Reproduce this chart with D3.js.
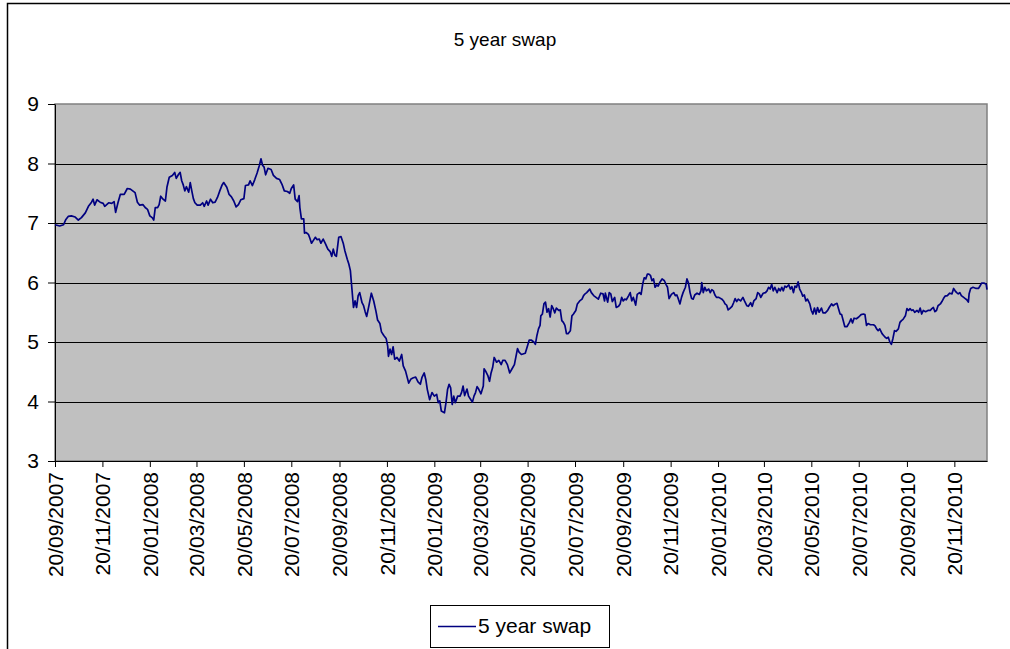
<!DOCTYPE html>
<html>
<head>
<meta charset="utf-8">
<script src="https://cdn.jsdelivr.net/npm/d3@7"></script>
<style>
  body { margin: 0; background: #fff; }
  text { font-family: "Liberation Sans", Arial, sans-serif; }
</style>
</head>
<body>
<script>
var width = 1010,
    height = 649;

// series: days since 20/09/2007 and the 5 year swap rate
var startDate = "20/09/2007";

var dayOffsets = [
  0,6,11,14,17,21,26,30,34,39,43,47,49,51,54,58,62,64,69,73,76,78,81,84,89,93,97,103,106,109,
  113,116,119,122,125,127,129,132,134,136,139,142,144,147,
  151,154,156,159,161,163,165,167,169,172,174,176,178,180,183,187,190,192,195,197,
  200,203,206,209,212,215,217,221,224,227,230,233,236,239,243,245,249,251,254,257,
  260,263,265,267,269,271,274,278,281,285,289,292,295,
  299,302,304,307,309,312,314,315,317,320,321,323,326,328,330,332,335,337,340,342,
  345,348,351,354,356,358,360,362,365,368,371,373,376,378,380,382,384,386,388,390,
  392,395,397,399,401,404,407,410,413,415,418,420,423,426,428,429,431,433,435,437,440,443,
  446,448,451,455,458,461,464,467,470,472,475,477,479,482,485,488,491,493,495,497,
  501,503,505,507,509,511,513,515,518,521,523,525,527,530,532,535,537,539,541,543,
  545,548,551,552,554,557,559,561,563,565,568,571,574,576,579,582,585,588,591,
  595,597,600,605,608,610,613,616,618,620,622,624,625,627,629,631,633,635,637,639,
  641,643,645,648,650,652,654,656,658,660,663,665,667,670,672,675,678,680,682,684,
  686,688,690,693,696,699,702,705,707,708,711,713,715,717,720,722,725,727,729,731,733,735,738,
  740,742,744,747,749,752,754,756,758,760,762,764,766,768,770,772,774,776,778,781,
  784,786,788,790,793,796,798,800,802,804,806,808,811,813,815,817,819,821,823,826,
  829,831,832,834,836,838,841,843,845,847,849,851,854,858,860,862,864,866,868,871,
  873,875,877,879,882,885,887,
  890,892,895,897,899,902,904,906,908,911,914,916,918,920,922,924,926,929,931,933,
  935,937,939,941,944,946,948,950,952,954,956,958,960,962,964,966,968,971,973,975,
  977,979,981,983,986,988,991,994,996,999,1001,1004,1006,1008,1010,1012,1014,1016,1019,1022,
  1024,1026,1028,1031,1034,1037,1040,
  1042,1044,1046,1049,1053,1055,1057,1059,1061,1064,1066,1068,1070,1072,1074,1076,1078,1080,1082,1085,
  1087,1089,1091,1094,1096,1098,1100,1102,1104,1106,1109,1111,1113,1115,1117,1120,1123,1126,1128,1130,
  1132,1134,1136,1139,1141,1143,1145,1148,1151,1154,1156,1158,1160,1162,1164,1166,1169,1171,1173,1175,
  1176,1178,1181,1185,1188,1190,1192,1195,1198,1199
];

var swapRates = [
  6.97,6.95,6.97,7.06,7.11,7.12,7.10,7.05,7.09,7.17,7.28,7.35,7.40,7.30,7.39,7.35,7.33,7.28,7.34,7.33,
  7.36,7.18,7.34,7.48,7.48,7.58,7.57,7.51,7.35,7.30,7.31,7.26,7.23,7.12,7.09,7.05,7.26,7.26,7.31,7.45,
  7.40,7.37,7.60,7.77,
  7.80,7.85,7.75,7.82,7.85,7.71,7.64,7.54,7.61,7.52,7.68,7.54,7.41,7.34,7.30,7.30,7.34,7.28,7.37,7.30,
  7.40,7.34,7.35,7.43,7.54,7.64,7.68,7.60,7.48,7.44,7.37,7.27,7.31,7.39,7.41,7.63,7.64,7.71,7.63,7.73,
  7.84,7.97,8.08,7.97,7.94,7.81,7.92,7.90,7.80,7.75,7.73,7.65,7.54,
  7.53,7.50,7.58,7.64,7.40,7.36,7.46,7.26,7.07,7.07,6.83,6.84,6.81,6.74,6.66,6.70,6.76,6.72,6.73,6.66,
  6.73,6.65,6.56,6.52,6.44,6.56,6.46,6.44,6.76,6.77,6.65,6.53,6.39,6.31,6.20,5.89,5.58,5.69,5.58,5.78,
  5.83,5.66,5.61,5.51,5.43,5.62,5.82,5.69,5.51,5.37,5.31,5.17,5.11,5.06,4.93,4.76,4.88,4.79,4.92,4.71,
  4.74,4.68,
  4.79,4.60,4.51,4.31,4.38,4.40,4.41,4.33,4.29,4.40,4.48,4.37,4.20,4.03,4.15,4.09,4.12,3.98,4.01,3.84,
  3.81,3.98,4.20,4.29,4.23,3.95,4.09,3.98,4.09,4.09,4.15,4.26,4.10,4.21,4.09,4.03,3.99,4.09,4.15,4.25,
  4.21,4.13,4.26,4.55,4.51,4.43,4.34,4.48,4.57,4.74,4.66,4.69,4.62,4.69,4.69,4.62,4.48,4.55,4.62,
  4.89,4.83,4.79,4.81,4.94,5.03,5.03,5.00,4.96,5.11,5.22,5.28,5.44,5.47,5.64,5.67,5.50,5.56,5.42,5.61,
  5.56,5.49,5.57,5.53,5.54,5.36,5.33,5.28,5.14,5.14,5.19,5.44,5.47,5.53,5.64,5.69,5.72,5.78,5.81,5.83,
  5.86,5.89,5.83,5.78,5.75,5.72,5.82,5.81,5.69,5.82,5.67,5.83,5.81,5.68,5.75,5.58,5.60,5.64,5.75,5.69,
  5.72,5.71,5.78,
  5.83,5.69,5.75,5.62,5.80,5.83,5.80,5.97,6.08,6.06,6.14,6.14,6.12,6.03,6.06,5.92,5.96,5.94,6.00,6.06,
  6.03,5.97,5.92,5.73,5.80,5.83,5.78,5.79,5.72,5.64,5.75,5.83,5.92,6.06,5.99,5.83,5.73,5.72,5.79,5.82,
  5.80,5.86,6.00,5.83,5.92,5.86,5.89,5.83,5.88,5.86,5.79,5.75,5.75,5.72,5.69,5.64,5.62,5.54,5.56,5.60,
  5.66,5.73,5.68,5.72,5.69,5.75,5.69,
  5.61,5.60,5.66,5.60,5.69,5.73,5.83,5.81,5.75,5.82,5.83,5.86,5.92,5.89,5.97,5.86,5.92,5.83,5.90,5.86,
  5.92,5.86,5.94,5.92,5.96,5.89,5.93,5.83,5.94,5.92,6.01,5.89,5.84,5.77,5.79,5.69,5.72,5.64,5.53,5.47,
  5.57,5.47,5.58,5.50,5.57,5.49,5.49,5.53,5.58,5.64,5.61,5.64,5.65,5.56,5.47,5.46,5.36,5.26,5.26,5.33,
  5.39,5.32,5.40,5.39,5.42,5.46,5.47,
  5.46,5.28,5.31,5.29,5.29,5.27,5.22,5.19,5.22,5.14,5.11,5.08,5.06,5.08,5.00,4.96,5.06,5.19,5.18,5.22,
  5.33,5.36,5.38,5.44,5.56,5.53,5.56,5.53,5.54,5.50,5.53,5.50,5.57,5.47,5.53,5.51,5.53,5.53,5.56,5.58,
  5.51,5.53,5.61,5.64,5.68,5.73,5.77,5.78,5.82,5.81,5.90,5.86,5.83,5.81,5.83,5.78,5.75,5.73,5.71,5.67,
  5.81,5.90,5.92,5.90,5.90,5.94,5.99,5.99,5.97,5.88
];

var xTickLabels = [
  "20/09/2007","20/11/2007","20/01/2008","20/03/2008","20/05/2008","20/07/2008",
  "20/09/2008","20/11/2008","20/01/2009","20/03/2009","20/05/2009","20/07/2009",
  "20/09/2009","20/11/2009","20/01/2010","20/03/2010","20/05/2010","20/07/2010",
  "20/09/2010","20/11/2010"
];
var axisEnd = "01/01/2011";
var yTicks = [3, 4, 5, 6, 7, 8, 9];
var seriesName = "5 year swap";
var title = "5 year swap";

var parse = d3.timeParse("%d/%m/%Y");
var fmt = d3.timeFormat("%d/%m/%Y");
var start = parse(startDate);

var data = dayOffsets.map(function (d, i) {
  return { date: d3.timeDay.offset(start, d), value: swapRates[i] };
});

var plot = { left: 55, right: 987, top: 104, bottom: 461 };

var x = d3.scaleTime()
    .domain([start, parse(axisEnd)])
    .range([plot.left, plot.right]);

var y = d3.scaleLinear()
    .domain([3, 9])
    .range([plot.bottom, plot.top]);

var svg = d3.select("body").append("svg")
    .attr("width", width)
    .attr("height", height);

// chart frame
svg.append("rect")
    .attr("x", 7.5).attr("y", 3.5)
    .attr("width", 1012).attr("height", 660)
    .attr("fill", "none")
    .attr("stroke", "#000")
    .attr("stroke-width", 1.5);

// plot area
svg.append("rect")
    .attr("x", plot.left).attr("y", plot.top)
    .attr("width", plot.right - plot.left)
    .attr("height", plot.bottom - plot.top)
    .attr("fill", "#c0c0c0")
    .attr("stroke", "#808080")
    .attr("stroke-width", 1.5);

// gridlines
svg.append("g")
  .selectAll("line")
  .data(yTicks.filter(function (t) { return t > 3 && t < 9; }))
  .enter().append("line")
    .attr("x1", plot.left).attr("x2", plot.right)
    .attr("y1", function (t) { return Math.round(y(t)) + 0.5; })
    .attr("y2", function (t) { return Math.round(y(t)) + 0.5; })
    .attr("stroke", "#000")
    .attr("stroke-width", 1);

// y axis
var yAxis = svg.append("g")
    .attr("transform", "translate(" + plot.left + ",0)")
    .call(d3.axisLeft(y)
      .tickValues(yTicks)
      .tickFormat(d3.format("d"))
      .tickSize(7)
      .tickSizeOuter(0)
      .tickPadding(9));
yAxis.selectAll("text")
    .attr("font-size", 21)
    .attr("fill", "#000");

// x axis
var xAxis = svg.append("g")
    .attr("transform", "translate(0," + plot.bottom + ")")
    .call(d3.axisBottom(x)
      .tickValues(xTickLabels.map(parse))
      .tickFormat(fmt)
      .tickSize(6)
      .tickSizeOuter(0));
xAxis.selectAll("text")
    .attr("transform", "rotate(-90)")
    .attr("text-anchor", "end")
    .attr("x", -11)
    .attr("y", 0)
    .attr("dy", "0.35em")
    .attr("font-size", 21)
    .attr("fill", "#000");

svg.selectAll(".domain, .tick line").attr("stroke", "#000");

// series line
var line = d3.line()
    .x(function (d) { return x(d.date); })
    .y(function (d) { return y(d.value); });

svg.append("path")
    .datum(data)
    .attr("d", line)
    .attr("fill", "none")
    .attr("stroke", "#000080")
    .attr("stroke-width", 1.7)
    .attr("stroke-linejoin", "round");

// title
svg.append("text")
    .attr("x", 505)
    .attr("y", 46)
    .attr("text-anchor", "middle")
    .attr("font-size", 19)
    .text(title);

// legend
var legend = svg.append("g").attr("transform", "translate(430,605)");
legend.append("rect")
    .attr("x", 0.5).attr("y", 0.5)
    .attr("width", 179).attr("height", 42)
    .attr("fill", "#fff")
    .attr("stroke", "#000");
legend.append("line")
    .attr("x1", 8).attr("x2", 46)
    .attr("y1", 21.5).attr("y2", 21.5)
    .attr("stroke", "#000080")
    .attr("stroke-width", 1.7);
legend.append("text")
    .attr("x", 48)
    .attr("y", 21)
    .attr("dy", "0.35em")
    .attr("font-size", 21)
    .text(seriesName);
</script>
</body>
</html>
